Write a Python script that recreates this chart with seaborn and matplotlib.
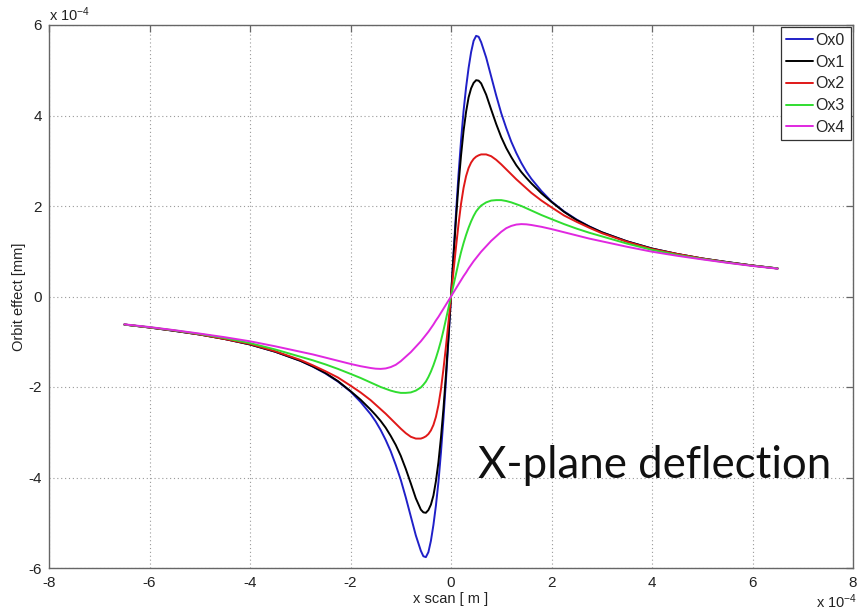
import matplotlib
matplotlib.use("Agg")
import matplotlib.pyplot as plt
import pandas as pd
import seaborn as sns

# Scan positions (units of 1e-4 m)
x_scan = [-6.5, -6.0, -5.5, -5.0, -4.5, -4.0, -3.5, -3.0, -2.75, -2.5, -2.25, -2.0, -1.8,
          -1.6, -1.5, -1.4, -1.3, -1.2, -1.1, -1.0, -0.9, -0.8, -0.7, -0.6, -0.55, -0.5,
          -0.45, -0.4, -0.35, -0.3, -0.25, -0.2, -0.15, -0.1, -0.05,
          0.0,
          0.05, 0.1, 0.15, 0.2, 0.25, 0.3, 0.35, 0.4, 0.45, 0.5, 0.55, 0.6, 0.7, 0.8, 0.9,
          1.0, 1.1, 1.2, 1.3, 1.4, 1.5, 1.6, 1.8, 2.0, 2.25, 2.5, 2.75, 3.0, 3.5, 4.0,
          4.5, 5.0, 5.5, 6.0, 6.5]

# Orbit effect for each orbit (units of 1e-4 mm)
ox0 = [-0.62, -0.685, -0.76, -0.84, -0.94, -1.06, -1.22, -1.42, -1.55, -1.70, -1.88, -2.10, -2.33,
       -2.60, -2.76, -2.95, -3.17, -3.42, -3.72, -4.05, -4.44, -4.86, -5.28, -5.62, -5.74, -5.76,
       -5.65, -5.40, -5.05, -4.62, -4.10, -3.45, -2.70, -1.85, -0.95,
       0.0,
       0.95, 1.85, 2.70, 3.45, 4.10, 4.62, 5.05, 5.40, 5.65, 5.76, 5.74, 5.62, 5.28, 4.86, 4.44,
       4.05, 3.72, 3.42, 3.17, 2.95, 2.76, 2.60, 2.33, 2.10, 1.88, 1.70, 1.55, 1.42, 1.22, 1.06,
       0.94, 0.84, 0.76, 0.685, 0.62]
ox1 = [-0.62, -0.685, -0.76, -0.84, -0.94, -1.06, -1.22, -1.42, -1.545, -1.69, -1.87, -2.09, -2.28,
       -2.50, -2.62, -2.75, -2.90, -3.08, -3.28, -3.52, -3.81, -4.13, -4.46, -4.71, -4.77, -4.78,
       -4.72, -4.60, -4.40, -4.08, -3.66, -3.12, -2.48, -1.72, -0.88,
       0.0,
       0.88, 1.72, 2.48, 3.12, 3.66, 4.08, 4.40, 4.60, 4.72, 4.78, 4.77, 4.71, 4.46, 4.13, 3.81,
       3.52, 3.28, 3.08, 2.90, 2.75, 2.62, 2.50, 2.28, 2.09, 1.87, 1.69, 1.545, 1.42, 1.22, 1.06,
       0.94, 0.84, 0.76, 0.685, 0.62]
ox2 = [-0.62, -0.685, -0.755, -0.84, -0.94, -1.05, -1.21, -1.40, -1.52, -1.65, -1.79, -1.97, -2.12,
       -2.29, -2.39, -2.49, -2.59, -2.70, -2.81, -2.92, -3.02, -3.10, -3.14, -3.14, -3.12, -3.09,
       -3.04, -2.96, -2.84, -2.66, -2.40, -2.05, -1.60, -1.10, -0.56,
       0.0,
       0.56, 1.10, 1.60, 2.05, 2.40, 2.66, 2.84, 2.96, 3.04, 3.09, 3.12, 3.14, 3.14, 3.10, 3.02,
       2.92, 2.81, 2.70, 2.59, 2.49, 2.39, 2.29, 2.12, 1.97, 1.79, 1.65, 1.52, 1.40, 1.21, 1.05,
       0.94, 0.84, 0.755, 0.685, 0.62]
ox3 = [-0.62, -0.68, -0.75, -0.83, -0.92, -1.03, -1.17, -1.33, -1.41, -1.50, -1.60, -1.71, -1.80,
       -1.90, -1.95, -2.00, -2.04, -2.08, -2.11, -2.13, -2.13, -2.12, -2.08, -2.01, -1.95, -1.88,
       -1.78, -1.66, -1.52, -1.36, -1.18, -0.98, -0.75, -0.50, -0.25,
       0.0,
       0.25, 0.50, 0.75, 0.98, 1.18, 1.36, 1.52, 1.66, 1.78, 1.88, 1.95, 2.01, 2.08, 2.12, 2.13,
       2.13, 2.11, 2.08, 2.04, 2.00, 1.95, 1.90, 1.80, 1.71, 1.60, 1.50, 1.41, 1.33, 1.17, 1.03,
       0.92, 0.83, 0.75, 0.68, 0.62]
ox4 = [-0.615, -0.675, -0.745, -0.82, -0.90, -0.99, -1.10, -1.22, -1.28, -1.35, -1.42, -1.49, -1.54,
       -1.58, -1.595, -1.60, -1.59, -1.56, -1.51, -1.43, -1.33, -1.23, -1.11, -0.99, -0.92, -0.85,
       -0.78, -0.70, -0.62, -0.53, -0.45, -0.36, -0.27, -0.18, -0.09,
       0.0,
       0.09, 0.18, 0.27, 0.36, 0.45, 0.53, 0.62, 0.70, 0.78, 0.85, 0.92, 0.99, 1.11, 1.23, 1.33,
       1.43, 1.51, 1.56, 1.59, 1.60, 1.595, 1.58, 1.54, 1.49, 1.42, 1.35, 1.28, 1.22, 1.10, 0.99,
       0.90, 0.82, 0.745, 0.675, 0.615]

series_names = ["Ox0", "Ox1", "Ox2", "Ox3", "Ox4"]
series_colors = ["#2020c8", "#000000", "#e01818", "#30dd30", "#e028e0"]

x_ticks = [-8, -6, -4, -2, 0, 2, 4, 6, 8]
y_ticks = [-6, -4, -2, 0, 2, 4, 6]

frames = []
for name, vals in zip(series_names, [ox0, ox1, ox2, ox3, ox4]):
    frames.append(pd.DataFrame({"x": x_scan, "y": vals, "orbit": name}))
df = pd.concat(frames, ignore_index=True)

sns.set_style("white")
plt.rcParams["font.family"] = ["Liberation Sans", "DejaVu Sans"]
plt.rcParams["mathtext.fontset"] = "custom"
plt.rcParams["mathtext.rm"] = "Liberation Sans"
plt.rcParams["mathtext.default"] = "regular"

fig = plt.figure(figsize=(8.58, 6.11), dpi=100)
ax = fig.add_axes([49 / 858, 1 - 568 / 611, (853 - 49) / 858, (568 - 25) / 611])

sns.lineplot(data=df, x="x", y="y", hue="orbit", palette=dict(zip(series_names, series_colors)),
             estimator=None, sort=False, linewidth=1.4, ax=ax)

ax.set_xlim(-8, 8)
ax.set_ylim(-6, 6)
ax.set_xticks(x_ticks)
ax.set_yticks(y_ticks)
ax.set_xticklabels([str(t) for t in x_ticks])
ax.set_yticklabels([str(t) for t in y_ticks])
ax.grid(True, linestyle=(0, (1, 2.5)), color="#9a9a9a", linewidth=0.8)
for sp in ax.spines.values():
    sp.set_color("#666666")
    sp.set_linewidth(1.0)
    sp.set_visible(True)
ax.tick_params(direction="in", length=5, width=0.9, color="#666666", top=True, right=True,
               labelsize=11, labelcolor="#222222")
ax.tick_params(axis="x", pad=6)
ax.tick_params(axis="y", pad=5)

ax.set_xlabel("x scan [ m ]", fontsize=10.5, labelpad=1, color="#222222")
ax.set_ylabel("Orbit effect [mm]", fontsize=10.5, labelpad=2, color="#222222")

# Axis multipliers
fig.text(49 / 858, 1 - 15 / 611, r"x 10$^{-4}$", fontsize=10.5, ha="left", va="center", color="#222222")
fig.text(857 / 858, 1 - 602 / 611, r"x 10$^{-4}$", fontsize=10.5, ha="right", va="center", color="#222222")

leg = ax.legend(loc="upper right", fontsize=11.5, frameon=True, fancybox=False, handlelength=1.7,
                handletextpad=0.15, borderpad=0.35, labelspacing=0.42, borderaxespad=0.15)
leg.get_frame().set_edgecolor("#333333")
leg.get_frame().set_linewidth(0.9)
leg.get_frame().set_alpha(1.0)
leg.set_title(None)

fig.text(478 / 858, 1 - 465 / 611, "X-plane deflection", fontsize=31.5, family=["Lato", "DejaVu Sans"],
         ha="left", va="center", color="#111111")

fig.savefig("out.png", dpi=100, facecolor="white")
